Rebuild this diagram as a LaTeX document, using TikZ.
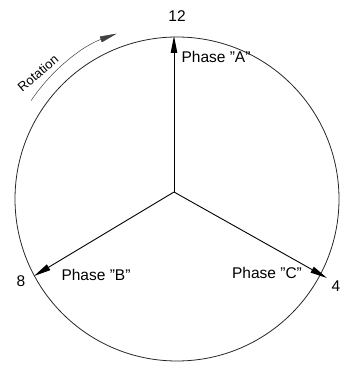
\documentclass[tikz,border=0pt]{standalone}
\usepackage{fontspec}
\setmainfont{Liberation Sans}
\usetikzlibrary{arrows.meta}
\newcommand{\dq}{\char34\relax}
\begin{document}
\begin{tikzpicture}[x=1pt,y=1pt,
  lbl/.style={font=\fontsize{15.5}{18}\selectfont, inner sep=0pt},
  phasor/.style={line width=0.9pt, -{Triangle[length=17pt,width=6.5pt]}},
  rim/.style={line width=0.8pt, black!85}]
\useasboundingbox (0,0) rectangle (341,366);
\coordinate (cc) at (177,167);
\draw[rim] (cc) circle[radius=162];
\coordinate (o) at (174,174);
\coordinate (a) at (174,330);
\coordinate (b) at (34,90);
\coordinate (c) at (327,88);
\draw[phasor] (o) -- (a);
\draw[phasor] (o) -- (b);
\draw[phasor] (o) -- (c);
\node[lbl] (n12) at (177,350) {12};
\node[lbl] (pa) at (216,309) {Phase \dq A\dq};
\node[lbl] (pb) at (96,91) {Phase \dq B\dq};
\node[lbl] (n8) at (21,85) {8};
\node[lbl] (pc) at (267,93) {Phase \dq C\dq};
\node[lbl] (n4) at (336,80) {4};
\coordinate (r1) at ([shift={(177,167)}]146:176);
\draw[line width=0.5pt, black!75, -{Triangle[length=17pt,width=6pt]}] (r1) arc[start angle=146, end angle=110, radius=176];
\node[lbl, font=\fontsize{13}{15}\selectfont, rotate=40] (rot) at (38,293) {Rotation};
\end{tikzpicture}
\end{document}
